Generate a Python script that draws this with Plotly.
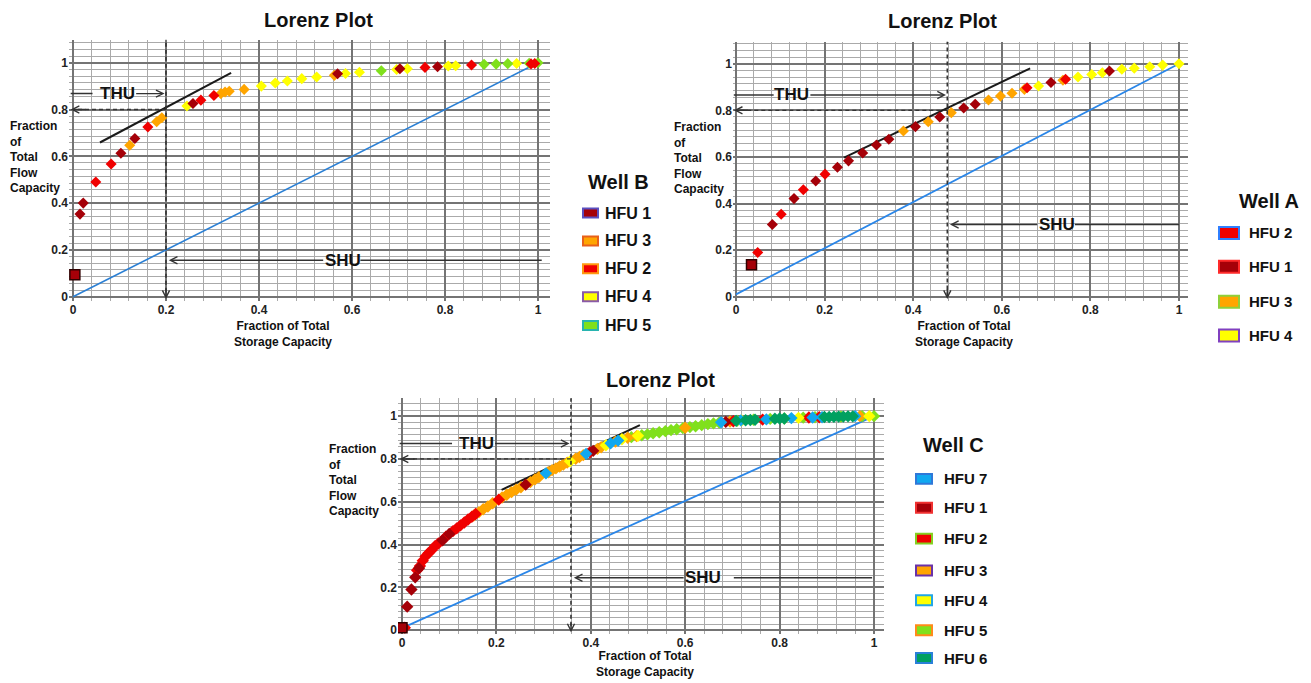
import plotly.graph_objects as go

W, H = 1311, 683
FONT = "Arial, 'Liberation Sans', sans-serif"

# ---------------- colours of the HFU classes ----------------
COL = {
    "HFU 1": "#a50008",
    "HFU 2": "#f00000",
    "HFU 3": "#ffa500",
    "HFU 4": "#ffff00",
    "HFU 5": "#80e01c",
    "HFU 6": "#00a060",
    "HFU 7": "#10a8f0",
}

# ---------------- Well B (top left) ----------------
B_hfu1_x = [0.004, 0.015, 0.022, 0.103, 0.133, 0.258, 0.569, 0.703, 0.784]
B_hfu1_y = [0.094, 0.353, 0.400, 0.613, 0.676, 0.826, 0.953, 0.974, 0.983]
B_hfu2_x = [0.049, 0.082, 0.161, 0.275, 0.303, 0.757, 0.857, 0.985, 0.993]
B_hfu2_y = [0.490, 0.567, 0.725, 0.840, 0.860, 0.980, 0.990, 0.995, 0.997]
B_hfu3_x = [0.122, 0.180, 0.191, 0.318, 0.327, 0.336, 0.368, 0.562]
B_hfu3_y = [0.647, 0.748, 0.765, 0.868, 0.875, 0.878, 0.886, 0.946]
B_hfu4_x = [0.245, 0.405, 0.435, 0.461, 0.492, 0.524, 0.586, 0.616, 0.696, 0.719, 0.807, 0.823, 0.954]
B_hfu4_y = [0.815, 0.900, 0.913, 0.922, 0.932, 0.939, 0.954, 0.959, 0.971, 0.974, 0.986, 0.987, 0.997]
B_hfu5_x = [0.663, 0.884, 0.910, 0.935, 0.981, 1.000]
B_hfu5_y = [0.966, 0.993, 0.994, 0.996, 0.998, 1.000]
B_diag_x, B_diag_y = [0, 1], [0, 1]
B_tan_x, B_tan_y = [0.058, 0.340], [0.659, 0.957]
B_cut_x, B_cut_y = 0.2, 0.8
B_thu_y, B_shu_y = 0.868, 0.156
B_legend = ["HFU 1", "HFU 3", "HFU 2", "HFU 4", "HFU 5"]

# ---------------- Well A (top right) ----------------
A_hfu1_x = [0.035, 0.082, 0.131, 0.180, 0.229, 0.254, 0.286, 0.317, 0.345, 0.405, 0.460, 0.514, 0.540, 0.711, 0.843]
A_hfu1_y = [0.137, 0.310, 0.421, 0.497, 0.556, 0.583, 0.617, 0.651, 0.676, 0.730, 0.771, 0.810, 0.826, 0.919, 0.969]
A_hfu2_x = [0.049, 0.102, 0.152, 0.201, 0.657, 0.744]
A_hfu2_y = [0.190, 0.354, 0.459, 0.526, 0.897, 0.933]
A_hfu3_x = [0.378, 0.434, 0.486, 0.570, 0.597, 0.623, 0.651, 0.738]
A_hfu3_y = [0.711, 0.751, 0.790, 0.844, 0.861, 0.873, 0.890, 0.929]
A_hfu4_x = [0.683, 0.772, 0.803, 0.827, 0.871, 0.899, 0.934, 0.963, 1.000]
A_hfu4_y = [0.904, 0.943, 0.954, 0.961, 0.976, 0.981, 0.987, 0.994, 1.000]
A_diag_x, A_diag_y = [0, 1], [0.01, 1]
A_tan_x, A_tan_y = [0.244, 0.664], [0.597, 0.980]
A_cut_x, A_cut_y = 0.477, 0.8
A_thu_y, A_shu_y = 0.866, 0.31
A_legend = ["HFU 2", "HFU 1", "HFU 3", "HFU 4"]

# ---------------- Well C (bottom) ----------------
C_hfu1_x = [0.000, 0.011, 0.020, 0.028, 0.036, 0.086, 0.100, 0.262, 0.405, 0.686]
C_hfu1_y = [0.012, 0.110, 0.190, 0.247, 0.290, 0.420, 0.450, 0.680, 0.838, 0.973]
C_hfu2_x = [0.006, 0.032, 0.038, 0.044, 0.050, 0.056, 0.063, 0.070, 0.077, 0.093, 0.108, 0.116,
            0.124, 0.132, 0.140, 0.148, 0.156, 0.205, 0.398, 0.702, 0.764, 0.862, 0.884]
C_hfu2_y = [0.012, 0.280, 0.300, 0.325, 0.345, 0.360, 0.375, 0.393, 0.405, 0.437, 0.463, 0.476,
            0.490, 0.503, 0.517, 0.530, 0.543, 0.610, 0.831, 0.976, 0.984, 0.994, 0.995]
C_hfu3_x = [0.152, 0.163, 0.172, 0.182, 0.192, 0.212, 0.222, 0.232, 0.242, 0.252, 0.272, 0.282,
            0.290, 0.310, 0.318, 0.326, 0.334, 0.342, 0.350, 0.368, 0.376, 0.384, 0.414, 0.422,
            0.452, 0.478, 0.497, 0.600, 0.695, 0.970]
C_hfu3_y = [0.536, 0.552, 0.565, 0.578, 0.593, 0.620, 0.633, 0.645, 0.657, 0.668, 0.692, 0.705,
            0.715, 0.738, 0.748, 0.756, 0.765, 0.774, 0.783, 0.801, 0.809, 0.818, 0.847, 0.855,
            0.881, 0.899, 0.907, 0.946, 0.975, 1.000]
C_hfu4_x = [0.356, 0.432, 0.466, 0.500, 0.720, 0.840, 0.990]
C_hfu4_y = [0.789, 0.864, 0.892, 0.908, 0.980, 0.992, 1.000]
C_hfu5_x = [0.486, 0.508, 0.520, 0.532, 0.545, 0.558, 0.570, 0.582, 0.595, 0.610, 0.622, 0.635,
            0.648, 0.660, 0.672, 0.710, 0.745, 0.780, 0.810, 0.850, 0.875, 0.930, 0.975, 1.000]
C_hfu5_y = [0.902, 0.911, 0.915, 0.920, 0.925, 0.930, 0.935, 0.939, 0.944, 0.949, 0.953, 0.958,
            0.963, 0.966, 0.970, 0.978, 0.983, 0.987, 0.989, 0.993, 0.995, 0.998, 1.000, 1.000]
C_hfu6_x = [0.708, 0.728, 0.738, 0.748, 0.790, 0.800, 0.810, 0.895, 0.905, 0.915, 0.925, 0.935, 0.945, 0.955]
C_hfu6_y = [0.978, 0.981, 0.982, 0.983, 0.988, 0.989, 0.989, 0.996, 0.996, 0.997, 0.998, 0.998, 0.999, 0.999]
C_hfu7_x = [0.305, 0.390, 0.442, 0.458, 0.676, 0.718, 0.772, 0.825, 0.870, 0.890, 0.960]
C_hfu7_y = [0.733, 0.824, 0.873, 0.886, 0.971, 0.980, 0.985, 0.991, 0.994, 0.995, 1.000]
C_diag_x, C_diag_y = [0, 1], [0.01, 1]
C_tan_x, C_tan_y = [0.211, 0.504], [0.656, 0.958]
C_cut_x, C_cut_y = 0.358, 0.8
C_thu_y, C_shu_y = 0.872, 0.245
C_legend = ["HFU 7", "HFU 1", "HFU 2", "HFU 3", "HFU 4", "HFU 5", "HFU 6"]

# ---------------- layout geometry (pixels) ----------------
PAN = {
    "B": dict(ax="", x0=73, x1=538, left=69, right=550, y0=298, y1=63, top=40, bottom=302),
    "A": dict(ax="2", x0=736, x1=1179, left=733, right=1188, y0=298, y1=64, top=42, bottom=302),
    "C": dict(ax="3", x0=402, x1=874, left=398, right=884, y0=633, y1=418, top=400, bottom=637),
}

fig = go.Figure()


def px(x):
    return x / W


def py(y):
    return 1 - y / H


def add_pts(p, xs, ys, name, size=8.5, first_square=False):
    sym = ["diamond"] * len(xs)
    sizes = [size] * len(xs)
    lw = [0] * len(xs)
    if first_square:
        sym[0] = "square"
        sizes[0] = 10
        lw[0] = 1.5
    fig.add_trace(go.Scatter(
        x=xs, y=ys, mode="markers", name=name, showlegend=False,
        xaxis="x" + PAN[p]["ax"], yaxis="y" + PAN[p]["ax"],
        marker=dict(symbol=sym, size=sizes, color=COL[name], opacity=1,
                    line=dict(width=lw, color="#300000")),
    ))


def add_line(p, xs, ys, color, width):
    fig.add_trace(go.Scatter(
        x=xs, y=ys, mode="lines", showlegend=False, hoverinfo="skip",
        xaxis="x" + PAN[p]["ax"], yaxis="y" + PAN[p]["ax"],
        line=dict(color=color, width=width),
    ))


# diagonals first (under points)
add_line("B", B_diag_x, B_diag_y, "#2a7fd4", 1.6)
add_line("A", A_diag_x, A_diag_y, "#2a86e8", 1.8)
add_line("C", C_diag_x, C_diag_y, "#2a86e8", 1.8)

# tangents
add_line("B", B_tan_x, B_tan_y, "#1a1a1a", 2)
add_line("A", A_tan_x, A_tan_y, "#1a1a1a", 2)
add_line("C", C_tan_x, C_tan_y, "#1a1a1a", 2)

# Well B points
add_pts("B", B_hfu3_x, B_hfu3_y, "HFU 3")
add_pts("B", B_hfu4_x, B_hfu4_y, "HFU 4")
add_pts("B", B_hfu5_x, B_hfu5_y, "HFU 5")
add_pts("B", B_hfu2_x, B_hfu2_y, "HFU 2")
add_pts("B", B_hfu1_x, B_hfu1_y, "HFU 1", first_square=True)

# Well A points
add_pts("A", A_hfu3_x, A_hfu3_y, "HFU 3")
add_pts("A", A_hfu4_x, A_hfu4_y, "HFU 4")
add_pts("A", A_hfu2_x, A_hfu2_y, "HFU 2")
add_pts("A", A_hfu1_x, A_hfu1_y, "HFU 1", first_square=True)

# Well C points
cs = 9.5
add_pts("C", C_hfu5_x, C_hfu5_y, "HFU 5", size=cs)
add_pts("C", C_hfu3_x, C_hfu3_y, "HFU 3", size=cs)
add_pts("C", C_hfu2_x, C_hfu2_y, "HFU 2", size=cs)
add_pts("C", C_hfu1_x, C_hfu1_y, "HFU 1", size=cs, first_square=True)
add_pts("C", C_hfu4_x, C_hfu4_y, "HFU 4", size=cs)
add_pts("C", C_hfu7_x, C_hfu7_y, "HFU 7", size=cs)
add_pts("C", C_hfu6_x, C_hfu6_y, "HFU 6", size=cs)

layout = dict(
    width=W, height=H, margin=dict(l=0, r=0, t=0, b=0),
    paper_bgcolor="white", plot_bgcolor="white",
    font=dict(family=FONT, color="#222"),
    showlegend=False,
)

shapes = []
annotations = []

for key, g in PAN.items():
    xr = [(g["left"] - g["x0"]) / (g["x1"] - g["x0"]), (g["right"] - g["x0"]) / (g["x1"] - g["x0"])]
    yr = [(g["y0"] - g["bottom"]) / (g["y0"] - g["y1"]), (g["y0"] - g["top"]) / (g["y0"] - g["y1"])]
    common = dict(showline=False, zeroline=False, ticks="", showgrid=True,
                  gridcolor="#747474", gridwidth=1.6,
                  tickfont=dict(family=FONT, size=12, color="#222", weight="bold"),
                  tickmode="linear", tick0=0, dtick=0.2, fixedrange=True)
    layout["xaxis" + g["ax"]] = dict(
        common, domain=[px(g["left"]), px(g["right"])], range=xr,
        anchor="y" + g["ax"],
        minor=dict(dtick=0.04, tick0=0, showgrid=True, gridcolor="#aaaaaa", gridwidth=1),
    )
    layout["yaxis" + g["ax"]] = dict(
        common, domain=[py(g["bottom"]), py(g["top"])], range=yr,
        anchor="x" + g["ax"],
        minor=dict(dtick=0.2 / 7, tick0=0, showgrid=True, gridcolor="#aaaaaa", gridwidth=1),
    )

txt_font = dict(family=FONT, size=17, color="#111")


def panel_marks(p, cut_x, cut_y, thu_y, shu_y, thu_tx, thu_l, shu_tx, shu_r, shu_end, top_y):
    ax = PAN[p]["ax"]
    xref, yref = "x" + ax, "y" + ax
    # vertical dashed cutoff line
    shapes.append(dict(type="line", xref=xref, yref=yref, x0=cut_x, x1=cut_x, y0=top_y, y1=0.0,
                       line=dict(color="#333", width=1.6, dash="4px,3px")))
    # horizontal dashed line
    shapes.append(dict(type="line", xref=xref, yref=yref, x0=cut_x, x1=0.0, y0=cut_y, y1=cut_y,
                       line=dict(color="#333", width=1.3, dash="4px,3px")))
    # arrow heads for dashed lines
    annotations.append(dict(xref=xref, yref=yref, axref=xref, ayref=yref, x=cut_x, y=-0.01,
                            ax=cut_x, ay=0.04, text="", showarrow=True, arrowhead=5,
                            arrowsize=1, arrowwidth=1.4, arrowcolor="#333"))
    annotations.append(dict(xref=xref, yref=yref, axref=xref, ayref=yref, x=-0.005, y=cut_y,
                            ax=0.03, ay=cut_y, text="", showarrow=True, arrowhead=5,
                            arrowsize=1, arrowwidth=1.4, arrowcolor="#333"))
    # THU
    shapes.append(dict(type="line", xref=xref, yref=yref, x0=-0.005, x1=thu_l, y0=thu_y, y1=thu_y,
                       line=dict(color="#333", width=1.5)))
    annotations.append(dict(xref=xref, yref=yref, axref=xref, ayref=yref, x=cut_x - 0.003, y=thu_y,
                            ax=thu_tx, ay=thu_y, text="<b>THU</b>", font=txt_font,
                            showarrow=True, arrowhead=5, arrowsize=1, arrowwidth=1.4,
                            arrowcolor="#333", standoff=0))
    # SHU
    shapes.append(dict(type="line", xref=xref, yref=yref, x0=shu_r, x1=shu_end, y0=shu_y, y1=shu_y,
                       line=dict(color="#333", width=1.5)))
    annotations.append(dict(xref=xref, yref=yref, axref=xref, ayref=yref, x=cut_x + 0.006, y=shu_y,
                            ax=shu_tx, ay=shu_y, text="<b>SHU</b>", font=txt_font,
                            showarrow=True, arrowhead=5, arrowsize=1, arrowwidth=1.4,
                            arrowcolor="#333", standoff=0))


panel_marks("B", B_cut_x, B_cut_y, B_thu_y, B_shu_y, 0.095, 0.042, 0.58, 0.618, 1.008, 1.115)
panel_marks("A", A_cut_x, A_cut_y, A_thu_y, A_shu_y, 0.125, 0.085, 0.724, 0.765, 1.0, 1.1)
panel_marks("C", C_cut_x, C_cut_y, C_thu_y, C_shu_y, 0.157, 0.106, 0.638, 0.703, 0.996, 1.086)


def ptxt(x, y, text, size, anchor="center", bold=True, align="center"):
    annotations.append(dict(xref="paper", yref="paper", x=px(x), y=py(y),
                            xanchor=anchor, yanchor="middle", showarrow=False, align=align,
                            text=("<b>%s</b>" % text) if bold else text,
                            font=dict(family=FONT, size=size, color="#111")))


# titles
ptxt(318, 20, "Lorenz Plot", 20)
ptxt(942, 21, "Lorenz Plot", 20)
ptxt(660, 382, "Lorenz Plot", 20)

# y-axis labels
ylab = "Fraction<br>of<br>Total<br>Flow<br>Capacity"
ptxt(8, 158, ylab, 12, anchor="left", align="left")
ptxt(672, 159, ylab, 12, anchor="left", align="left")
ptxt(327, 482, ylab, 12, anchor="left", align="left")

# x-axis labels
xlab = "Fraction of Total<br>Storage Capacity"
ptxt(283, 335, xlab, 12)
ptxt(964, 335, xlab, 12)
ptxt(645, 667, xlab, 12)

# legends
BORD = {
    "B": {"HFU 1": "#5a4fc0", "HFU 3": "#e8601a", "HFU 2": "#ff9a10", "HFU 4": "#8a5aa8", "HFU 5": "#28b4b0"},
    "A": {"HFU 2": "#2f7fff", "HFU 1": "#ff2a2a", "HFU 3": "#8fd03a", "HFU 4": "#8040c0"},
    "C": {"HFU 7": "#2f78d8", "HFU 1": "#f03030", "HFU 2": "#84d020", "HFU 3": "#6a32a8",
          "HFU 4": "#22a6e6", "HFU 5": "#ff8a1a", "HFU 6": "#2a80d8"},
}
LEG = {
    "B": dict(title="Well B", tx=618, ty=183, names=B_legend, sx0=583, sx1=598, sh=9,
              ys=[214, 242, 270, 298, 327], lx=603, fs=16),
    "A": dict(title="Well A", tx=1269, ty=202, names=A_legend, sx0=1219, sx1=1239, sh=12,
              ys=[234, 268, 303, 337], lx=1247, fs=15),
    "C": dict(title="Well C", tx=953, ty=447, names=C_legend, sx0=916, sx1=932, sh=10,
              ys=[481, 510, 541, 573, 603, 633, 661], lx=942, fs=15),
}
for k, L in LEG.items():
    ptxt(L["tx"], L["ty"], L["title"], 20)
    for name, yc in zip(L["names"], L["ys"]):
        shapes.append(dict(type="rect", xref="paper", yref="paper",
                           x0=px(L["sx0"]), x1=px(L["sx1"]),
                           y0=py(yc + L["sh"] / 2), y1=py(yc - L["sh"] / 2),
                           fillcolor=COL[name], line=dict(color=BORD[k][name], width=2)))
        ptxt(L["lx"], yc, name, L["fs"], anchor="left")

layout["shapes"] = shapes
layout["annotations"] = annotations
fig.update_layout(**layout)
fig.write_html("out.html")
